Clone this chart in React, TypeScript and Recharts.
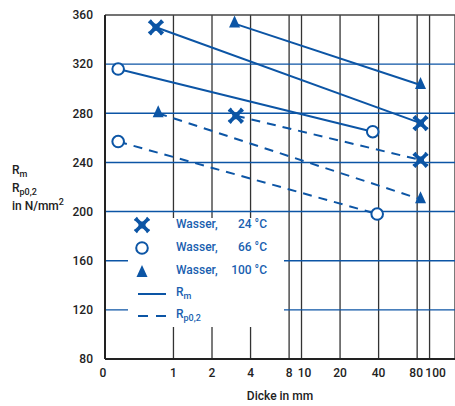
import React from 'react';
import {
  ComposedChart, Line, XAxis, YAxis, ReferenceLine, CartesianGrid
} from 'recharts';

// Farben
const BLUE = '#0c55a5';
const TEXT_BLUE = '#1a5fb0';
const DARK = '#222222';
const FONT = 'Roboto, "DejaVu Sans", sans-serif';

// Achsen
const X_MIN = 0.292;
const X_MAX = 158;
const xTicks = [X_MIN, 1, 2, 4, 8, 10, 20, 40, 80, 100];
const xTickLabels = ['0', '1', '2', '4', '8', '10', '20', '40', '80', '100'];
const yTicks = [80, 120, 160, 200, 240, 280, 320, 360];
const blueGrid = [120, 160, 200, 240, 280, 320];

// Messwerte (Dicke in mm, Festigkeit in N/mm²)
const rm24 = [{ x: 0.73, y: 350 }, { x: 85, y: 272 }];
const rp24 = [{ x: 3.07, y: 278 }, { x: 85, y: 242 }];
const rm66 = [{ x: 0.37, y: 316 }, { x: 36, y: 265 }];
const rp66 = [{ x: 0.37, y: 257 }, { x: 39, y: 198 }];
const rm100 = [{ x: 3.0, y: 353 }, { x: 85, y: 303 }];
const rp100 = [{ x: 0.76, y: 280 }, { x: 85, y: 210 }];

const legendRows = [
  { mark: 'x', label: 'Wasser,', temp: '24 °C' },
  { mark: 'o', label: 'Wasser,', temp: '66 °C' },
  { mark: 't', label: 'Wasser,', temp: '100 °C' },
];

// kleine Verschiebung der Beschriftung, damit 80 und 100 nicht kollidieren
const TICK_DX: Record<string, number> = { '0': -2, '10': 3, '80': -1, '100': 6 };

const XMark = ({ cx, cy }: { cx: number; cy: number }) => (
  <g transform={`translate(${cx},${cy})`}>
    <path d="M-6,-6 L6,6 M-6,6 L6,-6" stroke={BLUE} strokeWidth={3.8} />
    <path d="M-7.5,-4.5 L-4.5,-7.5 M4.5,-7.5 L7.5,-4.5 M7.5,4.5 L4.5,7.5 M-4.5,7.5 L-7.5,4.5" stroke={BLUE} strokeWidth={1.8} />
    <rect x={-3.5} y={-3.5} width={7} height={7} fill={BLUE} />
  </g>
);

const OMark = ({ cx, cy }: { cx: number; cy: number }) => (
  <circle cx={cx} cy={cy} r={5.8} fill="#fff" stroke={BLUE} strokeWidth={2} />
);

const TMark = ({ cx, cy }: { cx: number; cy: number }) => (
  <path d={`M${cx},${cy - 8} L${cx + 5.5},${cy + 4} L${cx - 5.5},${cy + 4} Z`} fill={BLUE} />
);

const dotX = (p: any) => <XMark key={`x-${p.index}`} cx={p.cx} cy={p.cy} />;
const dotO = (p: any) => <OMark key={`o-${p.index}`} cx={p.cx} cy={p.cy} />;
const dotT = (p: any) => <TMark key={`t-${p.index}`} cx={p.cx} cy={p.cy} />;

const XTick = (props: any) => {
  const { x, y, payload } = props;
  const label = xTickLabels[xTicks.indexOf(payload.value)] ?? '';
  return (
    <text
      x={x + (TICK_DX[label] ?? 0)}
      y={y}
      dy="0.71em"
      textAnchor="middle"
      fill={DARK}
      fontSize={12}
      fontWeight={500}
      fontFamily={FONT}
    >
      {label}
    </text>
  );
};

const LegendSymbol = ({ mark }: { mark: string }) => (
  <svg width={20} height={18} style={{ display: 'block' }}>
    {mark === 'x' && <XMark cx={10} cy={9} />}
    {mark === 'o' && <OMark cx={10} cy={9} />}
    {mark === 't' && <TMark cx={10} cy={11} />}
  </svg>
);

const Sub = ({ children }: { children: React.ReactNode }) => (
  <span style={{ fontSize: 9, position: 'relative', top: 3 }}>{children}</span>
);

const LegendBox = () => (
  <div style={{
    position: 'absolute', left: 128, top: 218, width: 156, height: 109,
    background: '#fff', fontFamily: FONT, fontSize: 12, fontWeight: 500, color: TEXT_BLUE
  }}>
    {legendRows.map((r, i) => (
      <div key={i} style={{ position: 'absolute', top: i * 23 - 2, left: 0, width: 156, height: 18 }}>
        <div style={{ position: 'absolute', left: 4, top: 0 }}><LegendSymbol mark={r.mark} /></div>
        <span style={{ position: 'absolute', left: 48, top: 1 }}>{r.label}</span>
        <span style={{ position: 'absolute', right: 17, top: 1 }}>{r.temp}</span>
      </div>
    ))}
    <div style={{ position: 'absolute', top: 67, left: 0, width: 156, height: 18 }}>
      <svg width={40} height={18} style={{ position: 'absolute', left: 8, top: 0 }}>
        <line x1={2} y1={9} x2={30} y2={9} stroke={BLUE} strokeWidth={2} />
      </svg>
      <span style={{ position: 'absolute', left: 48, top: 0 }}>R<Sub>m</Sub></span>
    </div>
    <div style={{ position: 'absolute', top: 89, left: 0, width: 156, height: 18 }}>
      <svg width={40} height={18} style={{ position: 'absolute', left: 8, top: 0 }}>
        <line x1={2} y1={9} x2={30} y2={9} stroke={BLUE} strokeWidth={2} strokeDasharray="10 8" />
      </svg>
      <span style={{ position: 'absolute', left: 48, top: 0 }}>R<Sub>p0,2</Sub></span>
    </div>
  </div>
);

const YTitle = () => (
  <div style={{
    position: 'absolute', left: 12, top: 162, fontFamily: FONT, fontSize: 12,
    fontWeight: 500, color: DARK, lineHeight: '17px'
  }}>
    <div>R<Sub>m</Sub></div>
    <div>R<Sub>p0,2</Sub></div>
    <div>in N/mm<span style={{ fontSize: 9, position: 'relative', top: -5 }}>2</span></div>
  </div>
);

const lineProps = {
  type: 'linear' as const,
  dataKey: 'y',
  stroke: BLUE,
  strokeWidth: 2,
  isAnimationActive: false,
  legendType: 'none' as const,
};

export default function App() {
  return (
    <div style={{ position: 'absolute', left: 0, top: 0, width: 455, height: 406, background: '#fff' }}>
      <ComposedChart
        width={455}
        height={406}
        margin={{ top: 15, right: 0, bottom: 0, left: 0 }}
      >
        <CartesianGrid horizontal={false} vertical stroke="#333" strokeWidth={1.3} />
        <XAxis
          dataKey="x"
          type="number"
          scale="log"
          domain={[X_MIN, X_MAX]}
          allowDataOverflow
          ticks={xTicks}
          interval={0}
          tick={<XTick />}
          tickSize={0}
          tickMargin={9}
          height={47}
          axisLine={{ stroke: DARK, strokeWidth: 2 }}
          label={{ value: 'Dicke in mm', position: 'insideBottom', offset: 6, fill: DARK, fontSize: 12, fontWeight: 500, fontFamily: FONT }}
        />
        <YAxis
          type="number"
          domain={[80, 360]}
          ticks={yTicks}
          interval={0}
          tick={{ fill: DARK, fontSize: 12, fontWeight: 500, fontFamily: FONT }}
          tickSize={0}
          tickMargin={12}
          width={105}
          axisLine={{ stroke: DARK, strokeWidth: 2 }}
        />
        {blueGrid.map((v) => (
          <ReferenceLine key={v} y={v} stroke={BLUE} strokeWidth={1.4} />
        ))}
        <ReferenceLine y={360} stroke="#444" strokeWidth={1.3} />
        <Line {...lineProps} data={rm24} dot={dotX} />
        <Line {...lineProps} data={rp24} dot={dotX} strokeDasharray="9 7" />
        <Line {...lineProps} data={rm66} dot={dotO} />
        <Line {...lineProps} data={rp66} dot={dotO} strokeDasharray="9 7" />
        <Line {...lineProps} data={rm100} dot={dotT} />
        <Line {...lineProps} data={rp100} dot={dotT} strokeDasharray="9 7" />
      </ComposedChart>
      <LegendBox />
      <YTitle />
    </div>
  );
}
